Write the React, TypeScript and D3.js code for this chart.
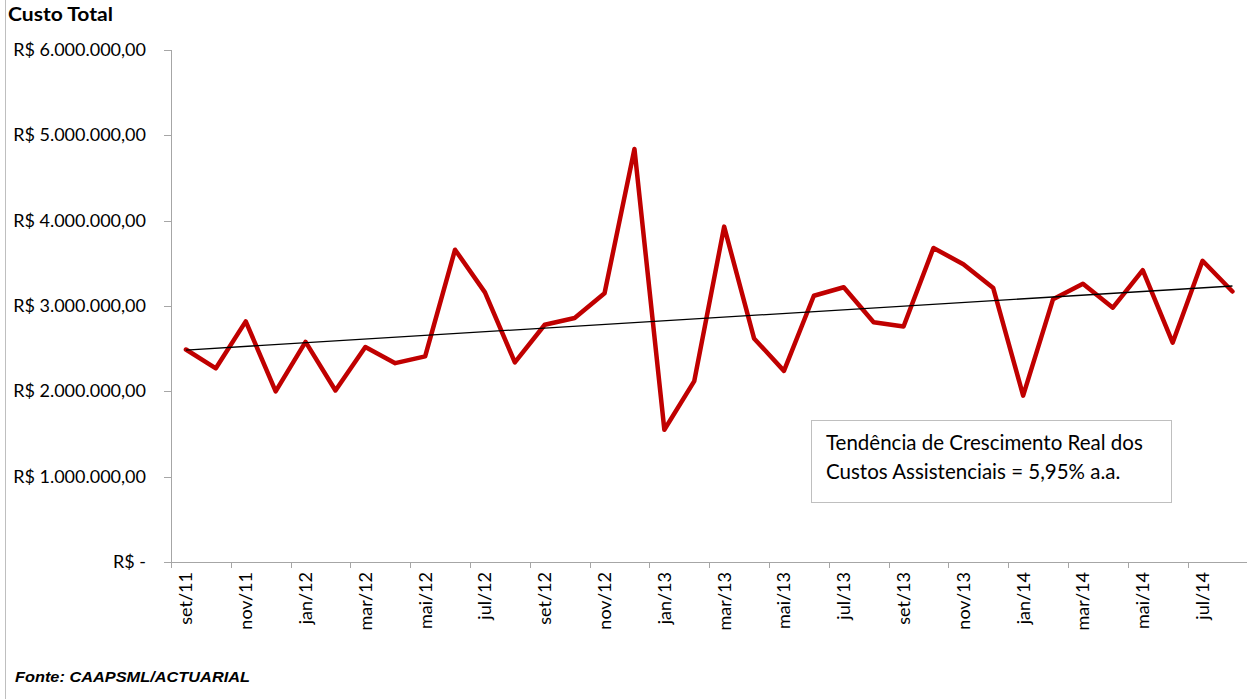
import React from "react";
import * as d3 from "d3";

const months = [
  "set/11","out/11","nov/11","dez/11","jan/12","fev/12","mar/12","abr/12","mai/12","jun/12","jul/12","ago/12",
  "set/12","out/12","nov/12","dez/12","jan/13","fev/13","mar/13","abr/13","mai/13","jun/13","jul/13","ago/13",
  "set/13","out/13","nov/13","dez/13","jan/14","fev/14","mar/14","abr/14","mai/14","jun/14","jul/14","ago/14",
];
const custoTotal = [
  2490000, 2270000, 2820000, 2000000, 2580000, 2010000, 2520000, 2330000, 2410000, 3660000, 3160000, 2340000,
  2780000, 2860000, 3150000, 4840000, 1550000, 2120000, 3930000, 2620000, 2240000, 3120000, 3220000, 2810000,
  2760000, 3680000, 3490000, 3210000, 1950000, 3080000, 3260000, 2980000, 3420000, 2570000, 3530000, 3170000,
];
const yTicks = [0, 1000000, 2000000, 3000000, 4000000, 5000000, 6000000];
const noteLines = ["Tendência de Crescimento Real dos", "Custos Assistenciais = 5,95% a.a."];
const yTitle = "Custo Total";
const source = "Fonte: CAAPSML/ACTUARIAL";

const W = 1247, H = 699;
const FONT = "Lato, 'Open Sans', sans-serif";

function fmt(v: number): string {
  if (v === 0) return "R$ -";
  const s = Math.round(v).toString().replace(/\B(?=(\d{3})+(?!\d))/g, ".");
  return "R$ " + s + ",00";
}

export default function App() {
  const x0 = 171, x1 = 171 + 36 * 29.9;
  const x = d3.scaleBand<string>().domain(months).range([x0, x1]);
  const y = d3.scaleLinear().domain([0, 6000000]).range([562, 50]);
  const cx = (i: number) => (x(months[i]) as number) + x.bandwidth() / 2;

  const line = d3.line<number>().x((_, i) => cx(i)).y((d) => y(d));

  const n = custoTotal.length;
  const idx = d3.range(n);
  const mx = d3.mean(idx) as number;
  const my = d3.mean(custoTotal) as number;
  const slope =
    d3.sum(idx, (i) => (i - mx) * (custoTotal[i] - my)) / d3.sum(idx, (i) => (i - mx) ** 2);
  const icpt = my - slope * mx;
  const trend = [icpt, icpt + slope * (n - 1)];

  const axisColor = "#a6a6a6";

  return (
    <svg width={W} height={H} style={{ position: "absolute", left: 0, top: 0, background: "#fff" }}>
      <rect x={0} y={0} width={W} height={H} fill="#fff" />
      <line x1={5.5} y1={0} x2={5.5} y2={H} stroke="#bfbfbf" strokeWidth={1} />
      <text x={8} y={21} fontFamily={FONT} fontWeight="bold" fontSize={18} textLength={105} lengthAdjust="spacingAndGlyphs" fill="#000">{yTitle}</text>

      <line x1={x0 + 0.5} y1={y(6000000)} x2={x0 + 0.5} y2={y(0)} stroke={axisColor} />
      {yTicks.map((t) => (
        <g key={t}>
          <line x1={164} x2={x0} y1={Math.round(y(t)) + 0.5} y2={Math.round(y(t)) + 0.5} stroke={axisColor} />
          <text x={146} y={y(t) + 6} textAnchor="end" fontFamily={FONT} fontSize={18} fill="#000">{fmt(t)}</text>
        </g>
      ))}

      <line x1={x0} y1={Math.round(y(0)) + 0.5} x2={x1} y2={Math.round(y(0)) + 0.5} stroke={axisColor} />
      {months.map((m, i) =>
        i % 2 === 0 ? (
          <line key={"t" + m} x1={Math.round(x(m) as number) + 0.5} x2={Math.round(x(m) as number) + 0.5}
            y1={y(0)} y2={y(0) + 6} stroke={axisColor} />
        ) : null
      )}
      {months.map((m, i) =>
        i % 2 === 0 ? (
          <text key={"l" + m} transform={`translate(${cx(i) + 6.5},572) rotate(-90)`} textAnchor="end"
            fontFamily={FONT} fontSize={18} fill="#000">{m}</text>
        ) : null
      )}

      <path d={line(custoTotal) || ""} fill="none" stroke="#C00000" strokeWidth={4.5} strokeLinejoin="round" strokeLinecap="round" />
      <line x1={cx(0)} y1={y(trend[0])} x2={cx(n - 1)} y2={y(trend[1])} stroke="#000" strokeWidth={1.3} />

      <rect x={811.5} y={420.5} width={360} height={82} fill="#fff" stroke="#bfbfbf" />
      {noteLines.map((t, i) => (
        <text key={t} x={826} y={450 + i * 29} fontFamily={FONT} fontSize={20.5} fill="#000">{t}</text>
      ))}

      <text x={15} y={682} fontFamily="'Liberation Sans', Arial, sans-serif" fontWeight="bold" fontStyle="italic" fontSize={15.5} textLength={235} lengthAdjust="spacingAndGlyphs" fill="#000">{source}</text>
    </svg>
  );
}
